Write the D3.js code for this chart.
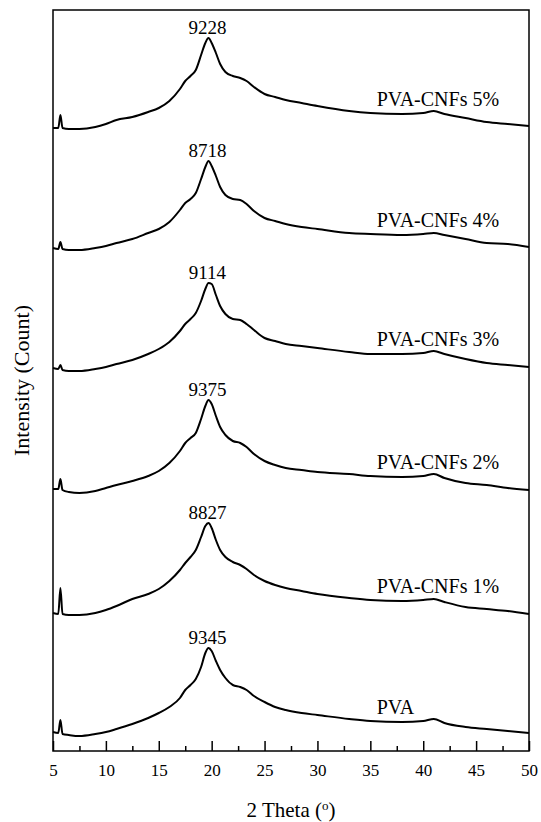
<!DOCTYPE html>
<html>
<head>
<meta charset="utf-8">
<script src="https://cdn.jsdelivr.net/npm/d3@7"></script>
<style>
  body { margin: 0; background: #fff; }
  svg text { font-family: "Liberation Serif", "Times New Roman", serif; }
</style>
</head>
<body>
<svg id="chart" width="541" height="822"></svg>
<script>
// 2 theta positions (degrees) shared by every pattern
const twoTheta = [5, 5.5, 5.7, 5.9, 6.5, 7.5, 9, 10, 11, 12.5,
                  14, 15, 16, 17, 17.5, 18, 18.5, 19, 19.4, 19.7,
                  20, 20.4, 20.8, 21.3, 22, 22.7, 23.3, 24, 25, 26,
                  27, 28.5, 30, 33, 35, 38, 40, 41, 42, 44,
                  46, 48, 50];

// intensity (count), bottom pattern first
const pva  = [1900, 1800, 3100, 1700, 1600, 1500, 1700, 1900, 2200, 2700,
              3300, 3800, 4400, 5300, 6100, 6600, 7200, 8400, 9800, 10300,
              10000, 9000, 8100, 7300, 6600, 6400, 6100, 5500, 4900, 4400,
              4100, 3800, 3600, 3200, 3000, 2900, 3000, 3200, 2800, 2400,
              2200, 2000, 1800];
const cnf1 = [1800, 1700, 4300, 1700, 1600, 1600, 1800, 2100, 2500, 3200,
              3700, 4200, 5000, 6100, 6800, 7400, 8100, 9400, 10500, 10800,
              10300, 9100, 8100, 7400, 6900, 6600, 6200, 5600, 5000, 4600,
              4300, 4000, 3700, 3300, 3100, 3000, 3100, 3200, 2900, 2400,
              2200, 2000, 1700];
const cnf2 = [2200, 2200, 3200, 2100, 1900, 1800, 2000, 2300, 2600, 3000,
              3500, 4000, 4800, 6000, 6800, 7300, 7800, 9200, 10500, 11100,
              10700, 9500, 8400, 7600, 7000, 6800, 6400, 5700, 5000, 4600,
              4300, 4100, 3900, 3700, 3500, 3400, 3500, 3700, 3300, 2800,
              2600, 2300, 2100];
const cnf3 = [2300, 2200, 2600, 2100, 2000, 2000, 2200, 2400, 2700, 3100,
              3700, 4200, 4900, 6000, 6700, 7200, 7800, 9000, 10200, 10800,
              10700, 9600, 8500, 7700, 7200, 7100, 6700, 6100, 5300, 5000,
              4700, 4500, 4300, 3900, 3700, 3700, 3800, 4000, 3700, 3200,
              2800, 2600, 2400];
const cnf4 = [2300, 2200, 2900, 2200, 2100, 2100, 2300, 2500, 2800, 3200,
              3800, 4200, 4900, 6100, 6800, 7200, 7800, 9200, 10400, 11000,
              10500, 9500, 8400, 7600, 7200, 7100, 6700, 6000, 5300, 5000,
              4700, 4400, 4200, 3800, 3700, 3600, 3700, 3800, 3600, 3200,
              2800, 2700, 2400];
const cnf5 = [2300, 2300, 3600, 2300, 2200, 2200, 2400, 2700, 3100, 3400,
              3900, 4300, 5000, 6200, 7000, 7500, 8100, 9600, 10800, 11300,
              10800, 9800, 8700, 7900, 7500, 7300, 7000, 6400, 5700, 5400,
              5100, 4800, 4500, 4000, 3800, 3700, 3800, 4000, 3700, 3300,
              2900, 2700, 2500];

const sampleNames = ['PVA', 'PVA-CNFs 1%', 'PVA-CNFs 2%', 'PVA-CNFs 3%', 'PVA-CNFs 4%', 'PVA-CNFs 5%'];
const peakCounts  = ['9345', '8827', '9375', '9114', '8718', '9228'];
const stackOffsets = [0, 12000, 24000, 36000, 48000, 60000];
const xTicks = [5, 10, 15, 20, 25, 30, 35, 40, 45, 50];
const xMinorTicks = [7.5, 12.5, 17.5, 22.5, 27.5, 32.5, 37.5, 42.5, 47.5];

const patterns = [pva, cnf1, cnf2, cnf3, cnf4, cnf5];
const serif = '"Liberation Serif", "Times New Roman", serif';

const margin = { top: 10, right: 12, bottom: 71, left: 53 };
const svg = d3.select('#chart');
const width = +svg.attr('width') - margin.left - margin.right;
const height = +svg.attr('height') - margin.top - margin.bottom;

const chart = svg.append('g')
    .attr('transform', `translate(${margin.left},${margin.top})`);

const xScale = d3.scaleLinear().domain([5, 50]).range([0, width]);
const yScale = d3.scaleLinear().domain([0, 74100]).range([height, 0]);

const line = d3.line()
    .x(d => xScale(d[0]))
    .y(d => yScale(d[1]))
    .curve(d3.curveMonotoneX);

const j38 = twoTheta.indexOf(38);

patterns.forEach((vals, i) => {
  const pts = twoTheta.map((t, j) => [t, vals[j] + stackOffsets[i]]);
  chart.append('path')
      .datum(pts)
      .attr('fill', 'none')
      .attr('stroke', '#000')
      .attr('stroke-width', 2)
      .attr('stroke-linejoin', 'round')
      .attr('d', line);

  // peak count above the main reflection
  const peakIdx = d3.maxIndex(vals.slice(10)) + 10;
  chart.append('text')
      .attr('x', xScale(19.6))
      .attr('y', yScale(vals[peakIdx] + stackOffsets[i]) - 4)
      .attr('text-anchor', 'middle')
      .attr('font-family', serif)
      .attr('font-size', 19)
      .text(peakCounts[i]);

  // sample name
  chart.append('text')
      .attr('x', xScale(35.6))
      .attr('y', yScale(vals[j38] + stackOffsets[i]) - 8)
      .attr('font-family', serif)
      .attr('font-size', 20)
      .text(sampleNames[i]);
});

// x axis, ticks pointing inward
const xAxis = chart.append('g')
    .attr('transform', `translate(0,${height})`)
    .call(d3.axisBottom(xScale).tickValues(xTicks).tickSize(-10).tickPadding(13).tickSizeOuter(0));
xAxis.attr('font-family', serif).attr('font-size', 17);
xAxis.select('.domain').remove();
xAxis.selectAll('line').attr('stroke-width', 1.5);
xAxis.selectAll('text').attr('fill', '#000');

const xMinor = chart.append('g')
    .attr('transform', `translate(0,${height})`)
    .call(d3.axisBottom(xScale).tickValues(xMinorTicks).tickSize(-5).tickFormat('').tickSizeOuter(0));
xMinor.select('.domain').remove();
xMinor.selectAll('line').attr('stroke-width', 1.5);

// frame
chart.append('rect')
    .attr('width', width)
    .attr('height', height)
    .attr('fill', 'none')
    .attr('stroke', '#000')
    .attr('stroke-width', 1.5);

// axis titles
const xTitle = svg.append('text')
    .attr('x', margin.left + width / 2)
    .attr('y', 817)
    .attr('text-anchor', 'middle')
    .attr('font-family', serif)
    .attr('font-size', 21);
xTitle.append('tspan').text('2 Theta (');
xTitle.append('tspan').attr('baseline-shift', 'super').attr('font-size', 13).text('o');
xTitle.append('tspan').text(')');

svg.append('text')
    .attr('transform', `translate(29,${margin.top + height / 2}) rotate(-90)`)
    .attr('text-anchor', 'middle')
    .attr('font-family', serif)
    .attr('font-size', 22)
    .text('Intensity (Count)');
</script>
</body>
</html>
